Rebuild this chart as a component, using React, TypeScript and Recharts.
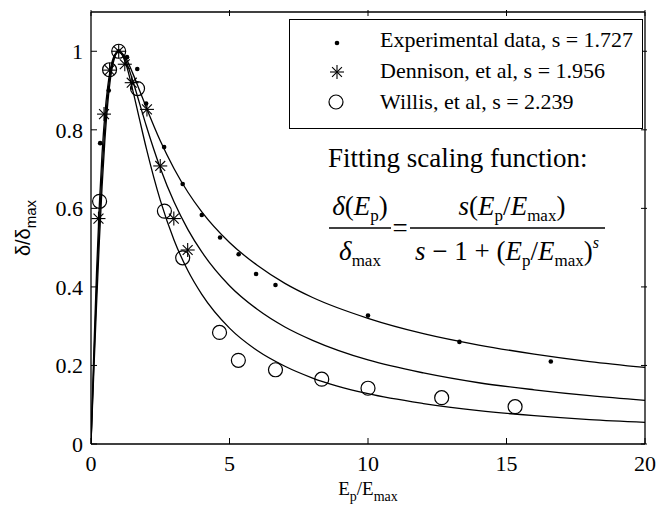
import { ComposedChart, Line, Scatter, XAxis, YAxis } from 'recharts';

// measured points
const expX = [0.33, 0.64, 1.0, 1.3, 1.67, 1.99, 2.64, 3.31, 4.0, 4.66, 5.33, 5.96, 6.66, 10.0, 13.3, 16.6];
const expY = [0.766, 0.9, 1.0, 0.985, 0.955, 0.867, 0.756, 0.662, 0.583, 0.526, 0.483, 0.433, 0.405, 0.327, 0.26, 0.21];

const denX = [0.27, 0.47, 0.67, 1.0, 1.22, 1.47, 2.02, 2.5, 2.99, 3.49];
const denY = [0.574, 0.84, 0.952, 1.0, 0.967, 0.92, 0.852, 0.708, 0.574, 0.494];

const wilX = [0.31, 0.67, 1.0, 1.68, 2.65, 3.31, 4.64, 5.32, 6.66, 8.33, 10.0, 12.66, 15.31];
const wilY = [0.618, 0.953, 1.0, 0.905, 0.593, 0.474, 0.284, 0.213, 0.189, 0.165, 0.142, 0.118, 0.095];

// fitted curves
const curveX = [0, 0.1, 0.2, 0.3, 0.4, 0.5, 0.6, 0.8, 1, 1.25, 1.5, 1.75, 2, 2.5, 3, 3.5, 4, 5, 6, 7, 8, 10, 12, 14, 16, 18, 20];
const expFit = [0, 0.232, 0.438, 0.608, 0.741, 0.839, 0.908, 0.982, 1, 0.983, 0.945, 0.901, 0.856, 0.772, 0.701, 0.641, 0.591, 0.513, 0.455, 0.409, 0.373, 0.32, 0.281, 0.252, 0.229, 0.21, 0.195];
const denFit = [0, 0.202, 0.392, 0.558, 0.697, 0.806, 0.886, 0.977, 1, 0.977, 0.927, 0.868, 0.809, 0.703, 0.616, 0.546, 0.489, 0.403, 0.343, 0.298, 0.264, 0.214, 0.181, 0.156, 0.138, 0.123, 0.111];
const wilFit = [0, 0.18, 0.354, 0.514, 0.655, 0.772, 0.863, 0.97, 1, 0.97, 0.903, 0.827, 0.752, 0.621, 0.519, 0.441, 0.381, 0.295, 0.238, 0.198, 0.168, 0.128, 0.103, 0.085, 0.072, 0.062, 0.055];

const xTicks = [0, 5, 10, 15, 20];
const yTicks = [0, 0.2, 0.4, 0.6, 0.8, 1];

const seriesNames = ['Experimental data, s = 1.727', 'Dennison, et al, s = 1.956', 'Willis, et al, s = 2.239'];

const toPoints = (xs: number[], ys: number[]) => xs.map((x, i) => ({ x, y: ys[i] }));

const SERIF = '"Liberation Serif", "Times New Roman", serif';
const TICK = 6;

const Dot = ({ cx, cy }: any) => <circle cx={cx} cy={cy} r={2.3} fill="#000" />;
const Ring = ({ cx, cy }: any) => <circle cx={cx} cy={cy} r={7} fill="none" stroke="#000" strokeWidth={1.2} />;
const Star = ({ cx, cy }: any) => {
  const r = 7;
  const d = r * 0.707;
  return (
    <g stroke="#000" strokeWidth={1.1}>
      <line x1={cx - r} y1={cy} x2={cx + r} y2={cy} />
      <line x1={cx} y1={cy - r} x2={cx} y2={cy + r} />
      <line x1={cx - d} y1={cy - d} x2={cx + d} y2={cy + d} />
      <line x1={cx - d} y1={cy + d} x2={cx + d} y2={cy - d} />
    </g>
  );
};

const BottomTick = ({ x, y, payload }: any) => (
  <g>
    <line x1={x} y1={y} x2={x} y2={y - TICK} stroke="#000" />
    <text x={x} y={y + 27} textAnchor="middle" fontFamily={SERIF} fontSize={22} fill="#000">
      {payload.value}
    </text>
  </g>
);
const TopTick = ({ x, y }: any) => <line x1={x} y1={y} x2={x} y2={y + TICK} stroke="#000" />;
const LeftTick = ({ x, y, payload }: any) => (
  <g>
    <line x1={x} y1={y} x2={x + TICK} y2={y} stroke="#000" />
    <text x={x - 8} y={y} dy="0.35em" textAnchor="end" fontFamily={SERIF} fontSize={22} fill="#000">
      {payload.value}
    </text>
  </g>
);
const RightTick = ({ x, y }: any) => <line x1={x} y1={y} x2={x - TICK} y2={y} stroke="#000" />;

const Overlay = () => {
  const markers = [<Dot cx={337} cy={43} />, <Star cx={337} cy={72} />, <Ring cx={336} cy={102} />];
  return (
    <svg width={669} height={506} style={{ position: 'absolute', left: 0, top: 0, pointerEvents: 'none' }} fontFamily={SERIF} fill="#000">
      <rect x={289.5} y={19.5} width={353} height={109} fill="#fff" stroke="#000" />
      {seriesNames.map((n, i) => (
        <g key={n}>
          {markers[i]}
          <text x={380} y={47 + i * 31} fontSize={22}>{n}</text>
        </g>
      ))}
      <text x={328} y={167} fontSize={27}>Fitting scaling function:</text>
      <text x={360} y={215} fontSize={27} textAnchor="middle">
        <tspan fontStyle="italic">δ</tspan>(<tspan fontStyle="italic">E</tspan>
        <tspan fontSize={17} dy={6}>p</tspan>
        <tspan dy={-6}>)</tspan>
      </text>
      <line x1={329} y1={228} x2={391} y2={228} stroke="#000" strokeWidth={1.4} />
      <text x={360} y={260} fontSize={27} textAnchor="middle">
        <tspan fontStyle="italic">δ</tspan>
        <tspan fontSize={17} dy={6}>max</tspan>
      </text>
      <text x={400} y={237} fontSize={27} textAnchor="middle">=</text>
      <line x1={410} y1={228} x2={605} y2={228} stroke="#000" strokeWidth={1.4} />
      <text x={512} y={215} fontSize={27} textAnchor="middle">
        <tspan fontStyle="italic">s</tspan>(<tspan fontStyle="italic">E</tspan>
        <tspan fontSize={17} dy={6}>p</tspan>
        <tspan dy={-6}>/</tspan>
        <tspan fontStyle="italic">E</tspan>
        <tspan fontSize={17} dy={6}>max</tspan>
        <tspan dy={-6}>)</tspan>
      </text>
      <text x={507} y={260} fontSize={27} textAnchor="middle">
        <tspan fontStyle="italic">s</tspan> − 1 + (<tspan fontStyle="italic">E</tspan>
        <tspan fontSize={17} dy={6}>p</tspan>
        <tspan dy={-6}>/</tspan>
        <tspan fontStyle="italic">E</tspan>
        <tspan fontSize={17} dy={6}>max</tspan>
        <tspan dy={-6}>)</tspan>
        <tspan fontSize={16} fontStyle="italic" dy={-12}>s</tspan>
      </text>
    </svg>
  );
};

export default function App() {
  const fits = [expFit, denFit, wilFit].map((ys) => toPoints(curveX, ys));
  return (
    <div style={{ position: 'absolute', left: 0, top: 0, width: 669, height: 506, background: '#fff' }}>
      <ComposedChart width={669} height={506} margin={{ top: 0, right: 0, bottom: 0, left: 0 }}>
        <XAxis xAxisId="b" dataKey="x" type="number" domain={[0, 20]} ticks={xTicks} tickSize={0} tickMargin={0}
          height={62} axisLine={{ stroke: '#000', strokeWidth: 1.3 }} tick={<BottomTick />} allowDataOverflow
          label={{
            content: ({ viewBox }: any) => (
              <text x={viewBox.x + viewBox.width / 2} y={viewBox.y + 51} textAnchor="middle" fontFamily={SERIF} fontSize={19}>
                E<tspan fontSize={14} dy={6}>p</tspan><tspan dy={-6}>/E</tspan><tspan fontSize={14} dy={6}>max</tspan>
              </text>
            ),
          }} />
        <XAxis xAxisId="t" orientation="top" dataKey="x" type="number" domain={[0, 20]} ticks={xTicks} tickSize={0}
          height={12} axisLine={{ stroke: '#000', strokeWidth: 1.3 }} tick={<TopTick />} allowDataOverflow />
        <YAxis yAxisId="l" dataKey="y" type="number" domain={[0, 1.1]} ticks={yTicks} tickSize={0} tickMargin={0}
          width={91} axisLine={{ stroke: '#000', strokeWidth: 1.3 }} tick={<LeftTick />} allowDataOverflow
          label={{
            content: ({ viewBox }: any) => {
              const cx = viewBox.x + 30;
              const cy = viewBox.y + viewBox.height / 2;
              return (
                <text x={cx} y={cy} transform={`rotate(-90 ${cx} ${cy})`} textAnchor="middle"
                  fontFamily='"Liberation Sans", Arial, sans-serif' fontSize={20}>
                  δ/δ<tspan fontSize={15} dy={6}>max</tspan>
                </text>
              );
            },
          }} />
        <YAxis yAxisId="r" orientation="right" dataKey="y" type="number" domain={[0, 1.1]} ticks={yTicks} tickSize={0}
          width={24} axisLine={{ stroke: '#000', strokeWidth: 1.3 }} tick={<RightTick />} allowDataOverflow />
        {fits.map((d, i) => (
          <Line key={i} xAxisId="b" yAxisId="l" data={d} dataKey="y" type="monotone" stroke="#000" strokeWidth={1.3}
            dot={false} activeDot={false} legendType="none" isAnimationActive={false} />
        ))}
        <Scatter xAxisId="b" yAxisId="l" name={seriesNames[0]} data={toPoints(expX, expY)} shape={<Dot />} isAnimationActive={false} />
        <Scatter xAxisId="b" yAxisId="l" name={seriesNames[1]} data={toPoints(denX, denY)} shape={<Star />} isAnimationActive={false} />
        <Scatter xAxisId="b" yAxisId="l" name={seriesNames[2]} data={toPoints(wilX, wilY)} shape={<Ring />} isAnimationActive={false} />
      </ComposedChart>
      <Overlay />
    </div>
  );
}
